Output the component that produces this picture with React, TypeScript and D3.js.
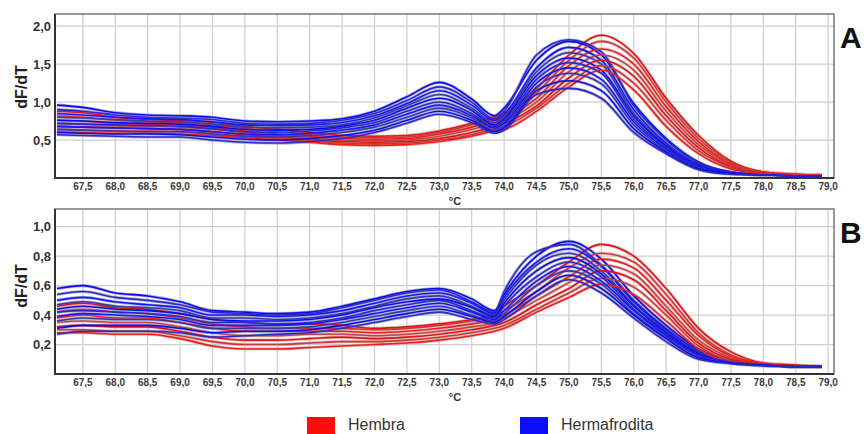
import React from 'react';
import * as d3 from 'd3';

const temps = [67.1, 67.5, 68.0, 68.5, 69.0, 69.5, 70.0, 70.5, 71.0, 71.5, 72.0, 72.5, 73.0, 73.5, 73.85, 74.0, 74.5, 75.0, 75.5, 76.0, 76.5, 77.0, 77.5, 78.0, 78.5, 78.9];

// Panel A - Hermafrodita
const aBlue = [
  [0.96, 0.93, 0.86, 0.83, 0.82, 0.80, 0.75, 0.74, 0.75, 0.78, 0.88, 1.07, 1.26, 1.04, 0.82, 0.92, 1.55, 1.80, 1.62, 0.98, 0.52, 0.21, 0.08, 0.05, 0.04, 0.03],
  [0.90, 0.88, 0.83, 0.80, 0.79, 0.77, 0.72, 0.71, 0.72, 0.76, 0.85, 1.02, 1.20, 1.00, 0.78, 0.88, 1.62, 1.82, 1.66, 0.95, 0.50, 0.20, 0.08, 0.05, 0.04, 0.03],
  [0.85, 0.83, 0.80, 0.78, 0.77, 0.74, 0.70, 0.69, 0.70, 0.73, 0.82, 0.98, 1.15, 0.96, 0.76, 0.84, 1.45, 1.72, 1.55, 0.90, 0.46, 0.18, 0.07, 0.045, 0.035, 0.03],
  [0.80, 0.79, 0.77, 0.75, 0.74, 0.71, 0.67, 0.66, 0.67, 0.70, 0.79, 0.95, 1.10, 0.92, 0.73, 0.81, 1.40, 1.65, 1.50, 0.85, 0.44, 0.17, 0.07, 0.045, 0.035, 0.03],
  [0.76, 0.75, 0.73, 0.72, 0.71, 0.68, 0.64, 0.63, 0.64, 0.68, 0.76, 0.92, 1.05, 0.89, 0.70, 0.78, 1.35, 1.58, 1.42, 0.82, 0.42, 0.16, 0.07, 0.04, 0.03, 0.03],
  [0.72, 0.71, 0.70, 0.69, 0.68, 0.65, 0.61, 0.60, 0.62, 0.66, 0.73, 0.88, 1.00, 0.85, 0.68, 0.75, 1.30, 1.52, 1.38, 0.78, 0.40, 0.15, 0.06, 0.04, 0.03, 0.03],
  [0.68, 0.67, 0.66, 0.65, 0.64, 0.61, 0.58, 0.57, 0.59, 0.63, 0.70, 0.84, 0.96, 0.82, 0.66, 0.72, 1.25, 1.45, 1.30, 0.74, 0.38, 0.14, 0.06, 0.04, 0.03, 0.03],
  [0.64, 0.63, 0.62, 0.61, 0.61, 0.58, 0.55, 0.54, 0.56, 0.60, 0.67, 0.80, 0.92, 0.79, 0.63, 0.69, 1.20, 1.38, 1.24, 0.70, 0.36, 0.13, 0.06, 0.04, 0.03, 0.03],
  [0.60, 0.59, 0.58, 0.58, 0.57, 0.54, 0.51, 0.50, 0.52, 0.56, 0.63, 0.76, 0.88, 0.76, 0.61, 0.66, 1.15, 1.28, 1.15, 0.65, 0.34, 0.12, 0.06, 0.04, 0.03, 0.03],
  [0.57, 0.56, 0.55, 0.54, 0.54, 0.50, 0.47, 0.46, 0.48, 0.52, 0.60, 0.72, 0.84, 0.73, 0.59, 0.63, 1.10, 1.18, 1.05, 0.60, 0.32, 0.11, 0.05, 0.04, 0.03, 0.03],
];

// Panel A - Hembra
const aRed = [
  [0.88, 0.86, 0.80, 0.77, 0.76, 0.73, 0.68, 0.64, 0.60, 0.56, 0.55, 0.56, 0.62, 0.72, 0.81, 0.86, 1.18, 1.62, 1.88, 1.64, 1.05, 0.56, 0.22, 0.08, 0.05, 0.04],
  [0.82, 0.80, 0.76, 0.74, 0.73, 0.70, 0.65, 0.61, 0.57, 0.54, 0.53, 0.54, 0.60, 0.70, 0.79, 0.83, 1.12, 1.55, 1.80, 1.58, 1.00, 0.52, 0.20, 0.08, 0.05, 0.04],
  [0.76, 0.75, 0.72, 0.71, 0.70, 0.67, 0.62, 0.58, 0.55, 0.52, 0.51, 0.52, 0.58, 0.67, 0.76, 0.80, 1.05, 1.48, 1.70, 1.50, 0.94, 0.48, 0.18, 0.07, 0.045, 0.04],
  [0.72, 0.71, 0.69, 0.68, 0.67, 0.64, 0.60, 0.56, 0.53, 0.50, 0.49, 0.50, 0.55, 0.64, 0.72, 0.76, 1.00, 1.40, 1.62, 1.42, 0.88, 0.44, 0.17, 0.07, 0.045, 0.035],
  [0.68, 0.67, 0.66, 0.65, 0.64, 0.61, 0.57, 0.54, 0.51, 0.48, 0.47, 0.48, 0.52, 0.60, 0.68, 0.72, 0.95, 1.32, 1.55, 1.34, 0.82, 0.40, 0.15, 0.065, 0.04, 0.035],
  [0.64, 0.63, 0.62, 0.62, 0.61, 0.58, 0.55, 0.52, 0.49, 0.46, 0.45, 0.46, 0.50, 0.57, 0.65, 0.68, 0.92, 1.25, 1.48, 1.25, 0.76, 0.36, 0.14, 0.06, 0.04, 0.035],
  [0.61, 0.60, 0.59, 0.59, 0.58, 0.56, 0.53, 0.50, 0.47, 0.44, 0.43, 0.44, 0.48, 0.55, 0.62, 0.64, 0.88, 1.20, 1.42, 1.16, 0.68, 0.32, 0.12, 0.06, 0.04, 0.035],
];

// Panel B - Hermafrodita
const bBlue = [
  [0.58, 0.60, 0.55, 0.53, 0.49, 0.43, 0.42, 0.41, 0.42, 0.46, 0.51, 0.56, 0.58, 0.51, 0.43, 0.54, 0.80, 0.90, 0.78, 0.53, 0.33, 0.17, 0.09, 0.065, 0.055, 0.05],
  [0.54, 0.56, 0.52, 0.50, 0.47, 0.42, 0.41, 0.40, 0.41, 0.45, 0.50, 0.55, 0.57, 0.49, 0.42, 0.56, 0.83, 0.88, 0.74, 0.50, 0.31, 0.16, 0.09, 0.065, 0.055, 0.05],
  [0.50, 0.52, 0.49, 0.47, 0.45, 0.40, 0.40, 0.39, 0.40, 0.43, 0.48, 0.53, 0.55, 0.48, 0.41, 0.52, 0.76, 0.85, 0.73, 0.49, 0.30, 0.15, 0.085, 0.06, 0.055, 0.05],
  [0.47, 0.49, 0.46, 0.45, 0.43, 0.38, 0.38, 0.37, 0.38, 0.41, 0.46, 0.51, 0.53, 0.46, 0.40, 0.50, 0.74, 0.82, 0.70, 0.47, 0.29, 0.15, 0.085, 0.06, 0.05, 0.05],
  [0.44, 0.46, 0.44, 0.43, 0.41, 0.37, 0.36, 0.36, 0.37, 0.40, 0.45, 0.49, 0.51, 0.45, 0.39, 0.48, 0.70, 0.79, 0.68, 0.46, 0.28, 0.14, 0.08, 0.06, 0.05, 0.05],
  [0.42, 0.43, 0.42, 0.41, 0.39, 0.35, 0.35, 0.34, 0.35, 0.38, 0.43, 0.47, 0.50, 0.43, 0.38, 0.46, 0.66, 0.76, 0.66, 0.44, 0.27, 0.13, 0.08, 0.06, 0.05, 0.05],
  [0.39, 0.41, 0.40, 0.39, 0.37, 0.33, 0.33, 0.33, 0.34, 0.37, 0.41, 0.45, 0.48, 0.42, 0.37, 0.43, 0.63, 0.73, 0.63, 0.43, 0.26, 0.13, 0.08, 0.06, 0.05, 0.05],
  [0.36, 0.38, 0.37, 0.37, 0.35, 0.31, 0.31, 0.31, 0.32, 0.35, 0.39, 0.43, 0.46, 0.40, 0.36, 0.41, 0.60, 0.70, 0.61, 0.41, 0.25, 0.12, 0.075, 0.06, 0.05, 0.05],
  [0.31, 0.33, 0.33, 0.33, 0.31, 0.28, 0.29, 0.29, 0.30, 0.33, 0.37, 0.41, 0.44, 0.39, 0.35, 0.39, 0.56, 0.67, 0.58, 0.40, 0.24, 0.11, 0.075, 0.06, 0.05, 0.05],
  [0.27, 0.29, 0.29, 0.29, 0.28, 0.25, 0.26, 0.27, 0.28, 0.31, 0.35, 0.39, 0.42, 0.37, 0.34, 0.37, 0.53, 0.64, 0.55, 0.38, 0.22, 0.10, 0.07, 0.055, 0.05, 0.05],
];

// Panel B - Hembra
const bRed = [
  [0.46, 0.48, 0.45, 0.44, 0.41, 0.37, 0.35, 0.34, 0.34, 0.33, 0.31, 0.32, 0.34, 0.37, 0.41, 0.46, 0.60, 0.76, 0.88, 0.80, 0.58, 0.31, 0.15, 0.075, 0.06, 0.05],
  [0.42, 0.44, 0.42, 0.41, 0.38, 0.34, 0.32, 0.31, 0.31, 0.31, 0.30, 0.31, 0.33, 0.36, 0.39, 0.43, 0.56, 0.72, 0.82, 0.76, 0.54, 0.28, 0.13, 0.07, 0.055, 0.05],
  [0.38, 0.40, 0.38, 0.38, 0.35, 0.31, 0.29, 0.29, 0.29, 0.29, 0.28, 0.29, 0.31, 0.34, 0.37, 0.40, 0.53, 0.66, 0.78, 0.72, 0.50, 0.26, 0.12, 0.07, 0.055, 0.05],
  [0.35, 0.36, 0.35, 0.35, 0.32, 0.28, 0.26, 0.26, 0.27, 0.27, 0.26, 0.27, 0.29, 0.32, 0.35, 0.38, 0.50, 0.62, 0.74, 0.68, 0.46, 0.23, 0.11, 0.065, 0.055, 0.05],
  [0.32, 0.33, 0.32, 0.32, 0.29, 0.25, 0.23, 0.23, 0.24, 0.25, 0.24, 0.25, 0.27, 0.30, 0.33, 0.35, 0.47, 0.58, 0.70, 0.64, 0.43, 0.21, 0.10, 0.065, 0.055, 0.05],
  [0.30, 0.30, 0.29, 0.29, 0.26, 0.22, 0.20, 0.20, 0.21, 0.22, 0.22, 0.23, 0.25, 0.28, 0.31, 0.33, 0.44, 0.55, 0.65, 0.59, 0.40, 0.19, 0.09, 0.06, 0.05, 0.05],
  [0.28, 0.28, 0.27, 0.27, 0.24, 0.19, 0.17, 0.17, 0.18, 0.19, 0.20, 0.21, 0.23, 0.26, 0.29, 0.31, 0.42, 0.52, 0.61, 0.54, 0.36, 0.17, 0.08, 0.06, 0.05, 0.05],
];

const xTicks = [67.5, 68.0, 68.5, 69.0, 69.5, 70.0, 70.5, 71.0, 71.5, 72.0, 72.5, 73.0, 73.5, 74.0, 74.5, 75.0, 75.5, 76.0, 76.5, 77.0, 77.5, 78.0, 78.5, 79.0];
const yTicksA = [0.5, 1.0, 1.5, 2.0];
const yTicksB = [0.2, 0.4, 0.6, 0.8, 1.0];
const legendItems = ['Hembra', 'Hermafrodita'];

const blueShades = ['#0b0bf2', '#2a2ac4', '#1515ff', '#3838a6'];
const redShades = ['#e31212', '#c63a3a', '#f21c1c', '#b94848'];
const font = '"Liberation Sans", Arial, sans-serif';

const fmt = (v: number) => v.toFixed(1).replace('.', ',');

type PanelProps = {
  id: string;
  top: number;
  bottom: number;
  yMax: number;
  yTicks: number[];
  blue: number[][];
  red: number[][];
  label: string;
  unitY: number;
};

const left = 55;
const right = 834;

function Panel({ id, top, bottom, yMax, yTicks, blue, red, label, unitY }: PanelProps) {
  const x = d3.scaleLinear().domain([67.07, 79.09]).range([left, right]);
  const y = d3.scaleLinear().domain([0, yMax]).range([bottom, top]);
  const line = d3
    .line<number>()
    .x((_, i) => x(temps[i]))
    .y((d) => y(d))
    .curve(d3.curveMonotoneX);

  // interleave the two groups so neither sits fully on top
  const order: { vals: number[]; color: string; halo: string }[] = [];
  const n = Math.max(blue.length, red.length);
  for (let i = 0; i < n; i++) {
    if (red[i]) order.push({ vals: red[i], color: redShades[i % 4], halo: '#dcb0b0' });
    if (blue[i]) order.push({ vals: blue[i], color: blueShades[i % 4], halo: '#a4a4c8' });
  }

  return (
    <g>
      <defs>
        <clipPath id={`clip-${id}`}>
          <rect x={left} y={top} width={right - left} height={bottom - top} />
        </clipPath>
      </defs>
      <rect x={left} y={top} width={right - left} height={bottom - top} fill="#fff" />
      {xTicks.map((t) => (
        <line key={`gx${t}`} x1={x(t)} x2={x(t)} y1={top} y2={bottom} stroke="#cdcdcd" strokeWidth={1.2} />
      ))}
      {yTicks.map((t) => (
        <line key={`gy${t}`} x1={left} x2={right} y1={y(t)} y2={y(t)} stroke="#cdcdcd" strokeWidth={1.2} />
      ))}
      <g clipPath={`url(#clip-${id})`}>
        {order.map((c, i) => (
          <path key={`h${i}`} d={line(c.vals) || ''} fill="none" stroke={c.halo} strokeWidth={3.2} strokeOpacity={0.8} />
        ))}
        {order.map((c, i) => (
          <path key={`l${i}`} d={line(c.vals) || ''} fill="none" stroke={c.color} strokeWidth={1.6} />
        ))}
      </g>
      <rect x={left} y={top} width={right - left} height={bottom - top} fill="none" stroke="#777" strokeWidth={1.5} />
      <line x1={left} x2={left} y1={top} y2={bottom + 1} stroke="#333" strokeWidth={2} />
      <line x1={left} x2={right} y1={bottom} y2={bottom} stroke="#333" strokeWidth={2} />
      {xTicks.map((t) => (
        <text key={`tx${t}`} x={x(t)} y={bottom + 12} textAnchor="middle" fontFamily={font} fontWeight="bold" fontSize={10} fill="#3a3a3a">
          {fmt(t)}
        </text>
      ))}
      {yTicks.map((t) => (
        <text key={`ty${t}`} x={left - 4} y={y(t) + 4.5} textAnchor="end" fontFamily={font} fontWeight="bold" fontSize={13} fill="#333">
          {fmt(t)}
        </text>
      ))}
      <text x={455} y={bottom + 27} textAnchor="middle" fontFamily={font} fontWeight="bold" fontSize={11} fill="#333">
        °C
      </text>
      <text
        transform={`translate(27,${unitY}) rotate(-90)`}
        textAnchor="middle"
        fontFamily={font}
        fontWeight="bold"
        fontSize={16}
        fill="#222"
      >
        dF/dT
      </text>
      <text x={840} y={top + 34} fontFamily={font} fontWeight="bold" fontSize={30} fill="#111">
        {label}
      </text>
    </g>
  );
}

export default function App() {
  const legendX = [307, 520];
  const legendFill = ['#ff0d0d', '#0d0dff'];
  return (
    <svg
      width={867}
      height={434}
      style={{ position: 'absolute', left: 0, top: 0, display: 'block', background: '#fff' }}
    >
      <rect width={867} height={434} fill="#fff" />
      <Panel id="a" top={14} bottom={178} yMax={2.16} yTicks={yTicksA} blue={aBlue} red={aRed} label="A" unitY={87} />
      <Panel id="b" top={209} bottom={374} yMax={1.12} yTicks={yTicksB} blue={bBlue} red={bRed} label="B" unitY={286} />
      {legendItems.map((name, i) => (
        <g key={name}>
          <rect x={legendX[i]} y={417} width={28} height={17} fill={legendFill[i]} />
          <text x={legendX[i] + 41} y={430} fontFamily={font} fontWeight={500} fontSize={16} fill="#333">
            {name}
          </text>
        </g>
      ))}
    </svg>
  );
}
